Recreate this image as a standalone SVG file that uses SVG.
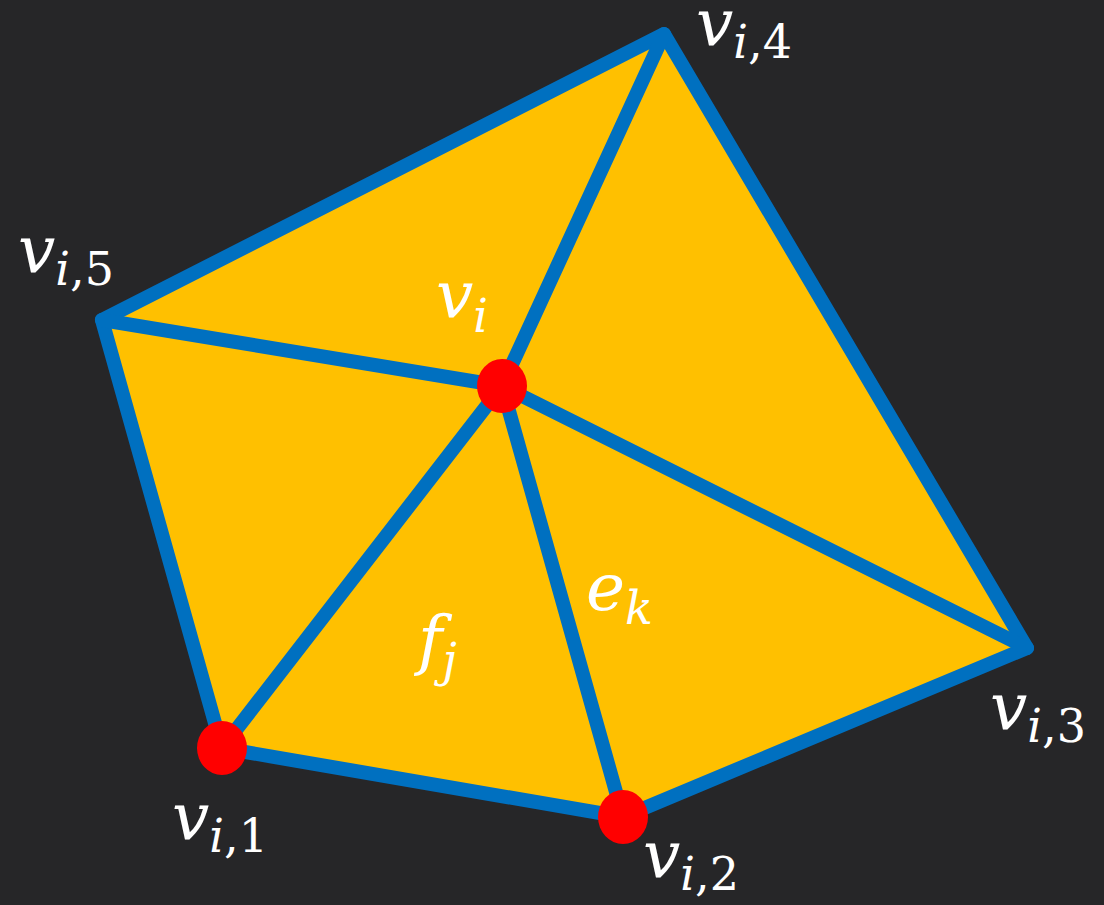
<svg xmlns="http://www.w3.org/2000/svg" width="1104" height="905" viewBox="0 0 1104 905">
<style>
.edge{stroke:#0070C0;stroke-width:14;fill:none;stroke-linecap:round;stroke-linejoin:round}
.face{fill:#FFC000;stroke:none}
.pt{fill:#FF0000}
.lbl{font-family:"DejaVu Serif","Liberation Serif",serif;fill:#FFFFFF;font-size:66px}
.it{font-style:italic}
.sub{font-size:46px}
</style>
<rect width="1104" height="905" fill="#262628"/>
<g id="faces">
<polygon class="face" points="102,320 664,34 1027,648 623,817 222,748"/>
</g>
<g id="connectors">
<polygon class="edge" points="102,320 664,34 1027,648 623,817 222,748"/>
<line class="edge" x1="502" y1="386" x2="664" y2="34"/>
<line class="edge" x1="502" y1="386" x2="102" y2="320"/>
<line class="edge" x1="502" y1="386" x2="1027" y2="648"/>
<line class="edge" x1="502" y1="386" x2="623" y2="817"/>
<line class="edge" x1="502" y1="386" x2="222" y2="748"/>
</g>
<g id="node-vi"><ellipse class="pt" cx="502" cy="386" rx="25" ry="27"/>
<text class="lbl" x="436" y="318"><tspan class="it">v</tspan><tspan class="sub it" dy="14">i</tspan></text></g>
<g id="node-vi1"><ellipse class="pt" cx="222" cy="748" rx="25" ry="27"/>
<text class="lbl" x="172" y="840"><tspan class="it">v</tspan><tspan class="sub" dy="12"><tspan class="it">i</tspan>,1</tspan></text></g>
<g id="node-vi2"><ellipse class="pt" cx="623" cy="817" rx="25" ry="27"/>
<text class="lbl" x="643" y="878"><tspan class="it">v</tspan><tspan class="sub" dy="12"><tspan class="it">i</tspan>,2</tspan></text></g>
<g id="node-vi3"><text class="lbl" x="990" y="730"><tspan class="it">v</tspan><tspan class="sub" dy="12"><tspan class="it">i</tspan>,3</tspan></text></g>
<g id="node-vi4"><text class="lbl" x="696" y="46"><tspan class="it">v</tspan><tspan class="sub" dy="12"><tspan class="it">i</tspan>,4</tspan></text></g>
<g id="node-vi5"><text class="lbl" x="18" y="273"><tspan class="it">v</tspan><tspan class="sub" dy="12"><tspan class="it">i</tspan>,5</tspan></text></g>
<g id="label-fj"><text class="lbl" x="418" y="662"><tspan class="it">f</tspan><tspan class="sub it" dy="14">j</tspan></text></g>
<g id="label-ek"><text class="lbl" x="586" y="610"><tspan class="it">e</tspan><tspan class="sub it" dy="14">k</tspan></text></g>
</svg>
